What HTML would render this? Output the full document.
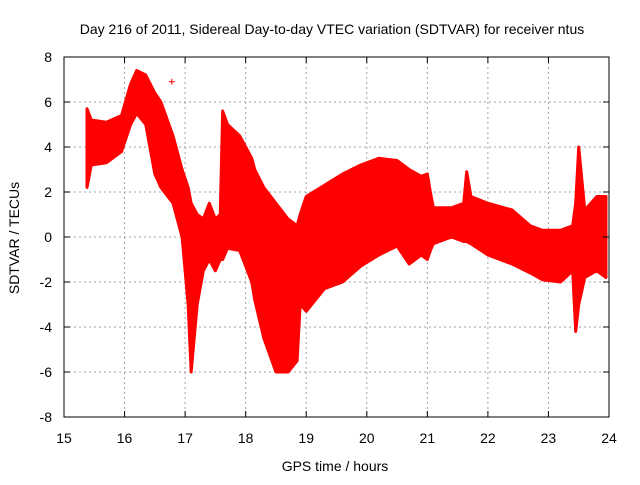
<!DOCTYPE html>
<html><head><meta charset="utf-8"><style>
body{margin:0;background:#fff;font-family:"Liberation Sans",sans-serif}
svg text{font-family:"Liberation Sans",sans-serif;font-size:14px;fill:#000}
</style></head><body>
<svg width="640" height="480" xmlns="http://www.w3.org/2000/svg">
<rect width="640" height="480" fill="#fff"/>
<text x="332" y="34" text-anchor="middle">Day 216 of 2011, Sidereal Day-to-day VTEC variation (SDTVAR) for receiver ntus</text>
<text x="335" y="471" text-anchor="middle">GPS time / hours</text>
<text transform="translate(19,238) rotate(-90)" text-anchor="middle">SDTVAR / TECUs</text>
<g id="grid"></g><g id="data"></g><g id="axes"></g>
</svg>
<script>
const times=[15.38,15.45,15.7,15.95,16.1,16.2,16.35,16.5,16.6,16.8,16.95,17.05,17.1,17.2,17.3,17.4,17.5,17.58,17.62,17.7,17.9,18.1,18.15,18.3,18.5,18.7,18.85,18.9,19.0,19.3,19.6,19.9,20.2,20.5,20.7,20.9,21.0,21.05,21.1,21.4,21.6,21.65,21.72,22.0,22.4,22.7,22.9,23.2,23.4,23.45,23.5,23.6,23.8,23.95];
const upper=[5.7,5.2,5.1,5.4,6.8,7.4,7.2,6.4,6.0,4.5,3.0,2.2,1.5,1.0,0.8,1.5,0.8,1.0,5.6,5.0,4.5,3.5,3.0,2.2,1.5,0.8,0.5,1.0,1.8,2.3,2.8,3.2,3.5,3.4,3.0,2.7,2.8,2.0,1.3,1.3,1.5,2.9,1.8,1.5,1.2,0.5,0.3,0.3,0.5,1.5,4.0,1.2,1.8,1.8];
const lower=[2.2,3.2,3.3,3.8,5.0,5.5,5.0,2.8,2.2,1.5,0.0,-3.0,-6.0,-3.0,-1.5,-1.0,-1.5,-1.0,-1.0,-0.5,-0.6,-2.0,-2.8,-4.5,-6.0,-6.0,-5.5,-3.0,-3.3,-2.3,-2.0,-1.3,-0.8,-0.4,-1.2,-0.8,-1.0,-0.6,-0.3,0.0,-0.2,-0.2,-0.3,-0.8,-1.2,-1.6,-1.9,-2.0,-1.5,-4.2,-3.0,-1.8,-1.5,-1.8];
const outlierT=[16.78], outlierV=[6.9];
const xTicks=[15,16,17,18,19,20,21,22,23,24];
const yTicks=[-8,-6,-4,-2,0,2,4,6,8];
const L=64,R=609,T=57,B=417;
const X=t=>L+(t-15)/9*(R-L), Y=v=>B-(v+8)/16*(B-T);
const NS="http://www.w3.org/2000/svg";
function mk(tag,attrs,parent){const e=document.createElementNS(NS,tag);for(const k in attrs)e.setAttribute(k,attrs[k]);document.getElementById(parent).appendChild(e);return e;}
xTicks.forEach(t=>{
 if(t>15&&t<24){const g=mk('line',{x1:X(t),x2:X(t),y1:T,y2:B,stroke:'#a0a0a0','stroke-dasharray':'2,3'},'grid');}
 const k=mk('line',{x1:X(t),x2:X(t),y1:B,y2:B-6,stroke:'#000'},'axes');
 const k2=mk('line',{x1:X(t),x2:X(t),y1:T,y2:T+6,stroke:'#000'},'axes');
 const tx=mk('text',{x:X(t),y:B+26,'text-anchor':'middle'},'axes');tx.textContent=t;
});
yTicks.forEach(v=>{
 if(v>-8&&v<8){const g=mk('line',{x1:L,x2:R,y1:Y(v),y2:Y(v),stroke:'#a0a0a0','stroke-dasharray':'2,3'},'grid');}
 const k=mk('line',{x1:L,x2:L+6,y1:Y(v),y2:Y(v),stroke:'#000'},'axes');
 const k2=mk('line',{x1:R,x2:R-6,y1:Y(v),y2:Y(v),stroke:'#000'},'axes');
 const tx=mk('text',{x:L-12,y:Y(v)+5,'text-anchor':'end'},'axes');tx.textContent=v;
});
const fr=mk('rect',{x:L,y:T,width:R-L,height:B-T,fill:'none',stroke:'#000'},'axes');


let pts=times.map((t,i)=>X(t)+','+Y(upper[i]));
for(let i=times.length-1;i>=0;i--)pts.push(X(times[i])+','+Y(lower[i]));
const band=mk('polygon',{points:pts.join(' '),fill:'#ff0000',stroke:'#ff0000','stroke-width':3,'stroke-linejoin':'round'},'data');


outlierT.forEach((t,i)=>{
 const p=mk('path',{d:`M${X(t)-3},${Y(outlierV[i])}h6M${X(t)},${Y(outlierV[i])-3}v6`,stroke:'#ff0000','stroke-width':1},'data');
 
 
});
</script>
</body></html>
